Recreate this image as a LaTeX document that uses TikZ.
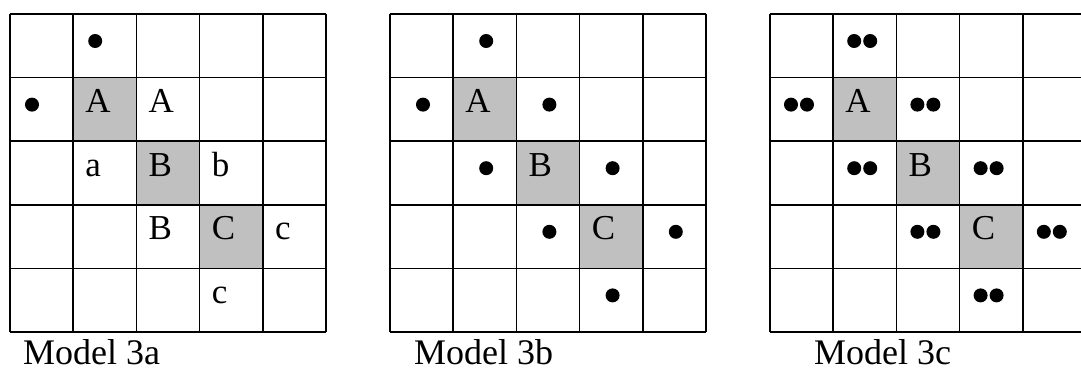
\documentclass[tikz,border=0pt]{standalone}
\usepackage{fontspec}
\setmainfont{Liberation Serif}
\definecolor{cellgray}{RGB}{192,192,192}
\tikzset{
  gridline/.style={line width=1.7pt, draw=black},
  shadedcell/.style={fill=cellgray},
  lbl/.style={anchor=base west, inner sep=0pt, font=\fontsize{35}{35}\selectfont},
  caption/.style={anchor=base west, inner sep=0pt, font=\fontsize{36}{36}\selectfont},
  dotmark/.style={fill=black},
}
\newcommand{\cw}{63.2}
\newcommand{\ch}{63.6}
\begin{document}
\begin{tikzpicture}[x=1pt,y=-1pt]
\useasboundingbox[fill=white] (0,0) rectangle (1081,370);
% ---- grids ----
\foreach \gx/\g in {10/1,390/2,770/3}{
  \foreach \c in {1,2,3}{
    \fill[shadedcell] ({\gx+\cw*\c},{14+\ch*\c}) rectangle ({\gx+\cw*(\c+1)},{14+\ch*(\c+1)});
  }
  \foreach \k in {0,...,5}{
    \draw[gridline] ({\gx+\cw*\k},14) -- ({\gx+\cw*\k},{14+\ch*5});
    \draw[gridline] (\gx,{14+\ch*\k}) -- ({\gx+\cw*5},{14+\ch*\k});
  }
}
% ---- Model 3a labels ----
\foreach \c/\r/\t [count=\i] in {1/1/A,2/1/A,1/2/a,2/2/B,3/2/b,2/3/B,3/3/C,4/3/c,3/4/c}{
  \node[lbl] (ga\i) at ({10+\cw*\c+12},{14+\ch*\r+35}) {\t};
}
\foreach \c/\r [count=\i] in {1/0,0/1}{
  \fill[dotmark] ({10+\cw*\c+22},{14+\ch*\r+27}) circle (7);
}
% ---- Model 3b ----
\foreach \c/\r/\t [count=\i] in {1/1/A,2/2/B,3/3/C}{
  \node[lbl] (gb\i) at ({390+\cw*\c+12},{14+\ch*\r+35}) {\t};
}
\foreach \c/\r in {1/0,0/1,2/1,1/2,3/2,2/3,4/3,3/4}{
  \fill[dotmark] ({390+\cw*\c+33},{14+\ch*\r+27}) circle (7);
}
% ---- Model 3c ----
\foreach \c/\r/\t [count=\i] in {1/1/A,2/2/B,3/3/C}{
  \node[lbl] (gc\i) at ({770+\cw*\c+12},{14+\ch*\r+35}) {\t};
}
\foreach \c/\r in {1/0,0/1,2/1,1/2,3/2,2/3,4/3,3/4}{
  \fill[dotmark] ({770+\cw*\c+21},{14+\ch*\r+27}) circle (7);
  \fill[dotmark] ({770+\cw*\c+37},{14+\ch*\r+27}) circle (7);
}
% ---- captions ----
\node[caption] (capa) at (23,364) {Model 3a};
\node[caption] (capb) at (414,364) {Model 3b};
\node[caption] (capc) at (814,364) {Model 3c};
\end{tikzpicture}
\end{document}
